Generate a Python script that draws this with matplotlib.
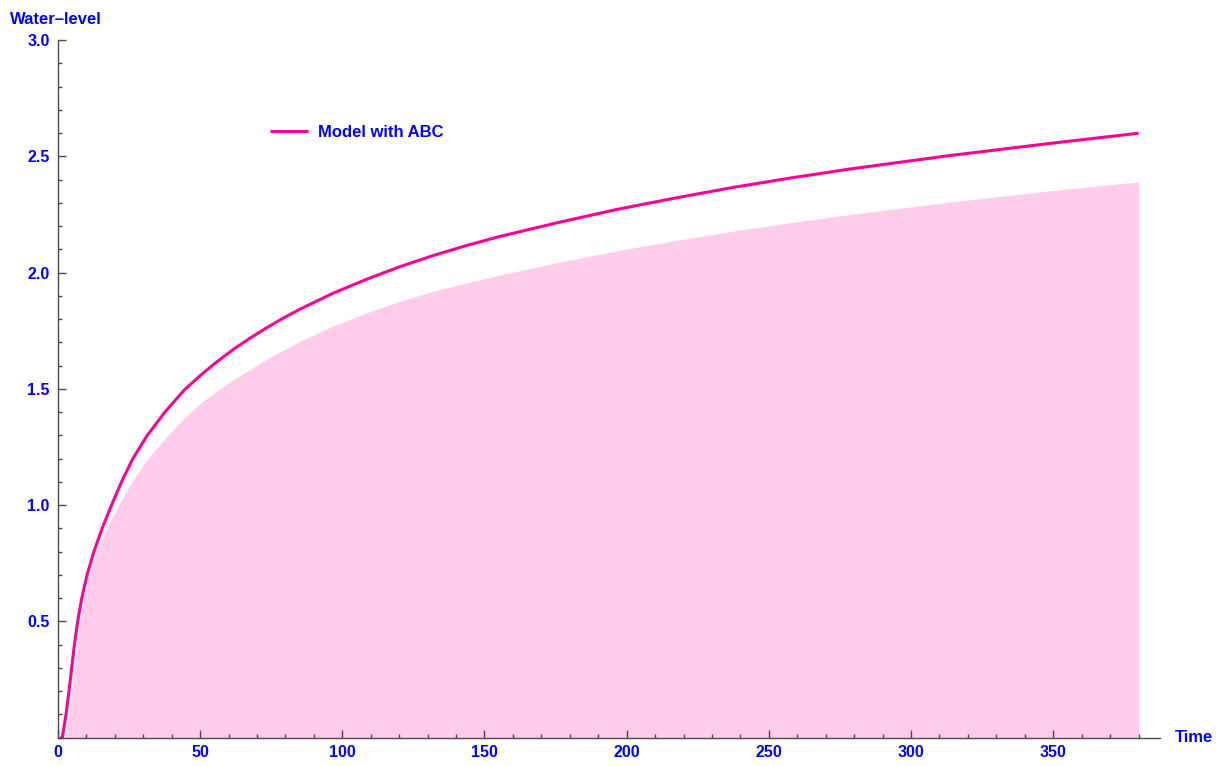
import numpy as np
import matplotlib.pyplot as plt
from matplotlib.ticker import MultipleLocator, FixedLocator

# curve
line_t = [0.8, 1.55, 2.85, 3.9, 4.85, 5.8, 6.95, 8.4, 10.25, 12.65, 15.55, 18.85, 22.35, 26.35,
          31.4, 37.6, 44.4, 50.0, 55.5, 61.7, 67.5, 73.4, 79.0, 85.1, 96.8, 108.6, 120.3, 132.0,
          143.7, 155.4, 176.0, 196.5, 217.0, 237.5, 258.0, 278.5, 313.7, 348.8, 380.0]
line_h = [0.0, 0.0, 0.10, 0.20, 0.30, 0.40, 0.50, 0.60, 0.70, 0.80, 0.90, 1.00, 1.10, 1.20,
          1.30, 1.40, 1.495, 1.557, 1.613, 1.670, 1.718, 1.763, 1.803, 1.843, 1.912, 1.972, 2.026,
          2.074, 2.117, 2.156, 2.216, 2.272, 2.321, 2.367, 2.408, 2.446, 2.504, 2.556, 2.60]

# filled area (second series, no line)
fill_t = [2.5, 3.9, 4.85, 5.8, 6.7, 7.8, 9.0, 10.9, 13.5, 17.1, 21.3, 26.0, 31.6, 38.6, 44.2,
          50.0, 55.8, 61.7, 73.4, 85.1, 96.8, 108.6, 120.3, 132.0, 143.7, 155.4, 176.0, 196.5,
          217.0, 237.5, 258.0, 278.5, 313.7, 348.8, 380.0]
fill_h = [0.0, 0.10, 0.20, 0.30, 0.40, 0.50, 0.60, 0.70, 0.80, 0.90, 1.00, 1.10, 1.20, 1.30, 1.372,
          1.438, 1.490, 1.540, 1.628, 1.705, 1.771, 1.828, 1.877, 1.920, 1.956, 1.990, 2.044, 2.094,
          2.138, 2.179, 2.216, 2.250, 2.304, 2.352, 2.391]

x_ticks = [0, 50, 100, 150, 200, 250, 300, 350]
y_ticks = [0.5, 1.0, 1.5, 2.0, 2.5, 3.0]

W, H = 1223, 766
blue = '#0000ff'
pink = '#ff0094'
axcol = '#4a4a4a'

plt.rcParams['font.family'] = ['Liberation Sans', 'DejaVu Sans']
plt.rcParams['font.weight'] = 'bold'

fig = plt.figure(figsize=(W / 100, H / 100), dpi=100)
ax = fig.add_axes([57.9 / W, 28.3 / H, 1102 / W, 697.5 / H])

ax.fill_between(fill_t, 0, fill_h, color='#ffcceb', lw=0)
ax.plot(line_t, line_h, color=pink, lw=2.2, label='Model with ABC',
        solid_capstyle='butt', solid_joinstyle='round')

ax.set_xlim(0, 387.5)
ax.set_ylim(0, 3.0)
for s in ['top', 'right']:
    ax.spines[s].set_visible(False)
for s in ['left', 'bottom']:
    ax.spines[s].set_color(axcol)
    ax.spines[s].set_linewidth(1.0)

ax.xaxis.set_major_locator(FixedLocator(x_ticks))
ax.yaxis.set_major_locator(FixedLocator(y_ticks))
ax.xaxis.set_minor_locator(MultipleLocator(10))
ax.yaxis.set_minor_locator(MultipleLocator(0.1))
ax.set_xticklabels([str(v) for v in x_ticks])
ax.set_yticklabels(['%.1f' % v for v in y_ticks])

ax.tick_params(which='both', direction='in', color=axcol, width=1.0)
ax.tick_params(which='major', length=5.5, labelsize=11.5, labelcolor=blue, pad=5)
ax.tick_params(which='minor', length=3.2)
ax.tick_params(axis='y', which='major', pad=6)
for lab in ax.get_xticklabels() + ax.get_yticklabels():
    lab.set_fontweight('bold')

fig.text(10 / W, 1 - 19 / H, 'Water\u2013level', color=blue, fontsize=12,
         fontweight='bold', ha='left', va='center')
fig.text(1175 / W, 1 - 737 / H, 'Time', color=blue, fontsize=12,
         fontweight='bold', ha='left', va='center')

leg = ax.legend(loc='center left', bbox_to_anchor=(270 / W, 1 - 132.3 / H),
                bbox_transform=fig.transFigure, frameon=False, borderpad=0,
                borderaxespad=0, handlelength=2.3, handletextpad=0.55,
                prop={'size': 12, 'weight': 'bold'})
for t in leg.get_texts():
    t.set_color(blue)

fig.savefig('out.png', dpi=100)
